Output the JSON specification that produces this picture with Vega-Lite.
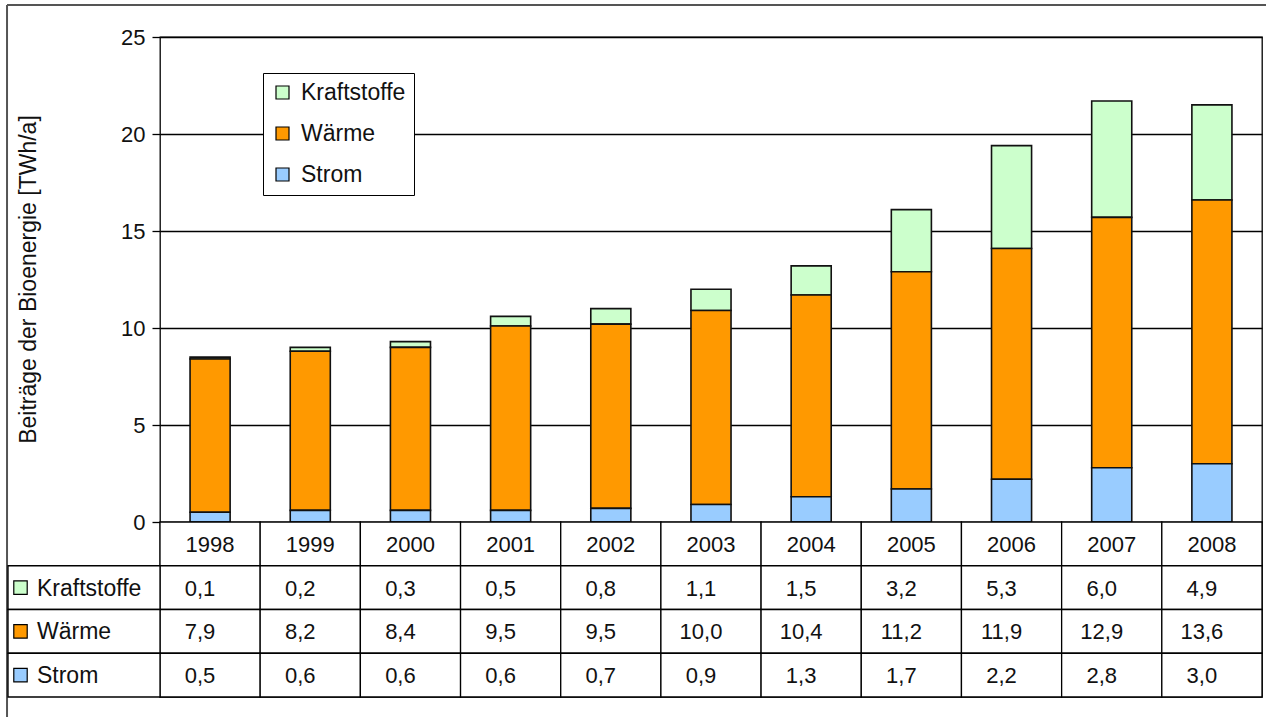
{
  "$schema": "https://vega.github.io/schema/vega-lite/v6.json",
  "width": 1102,
  "height": 660,
  "autosize": "none",
  "padding": {"left": 160, "top": 37, "right": 4, "bottom": 20},
  "background": "white",
  "config": {
    "font": "Liberation Sans",
    "locale": {"number": {"decimal": ",", "thousands": ".", "grouping": [3], "currency": ["", " €"]}},
    "view": {"stroke": "#000", "strokeWidth": 1.3}
  },
  "data": {
    "values": [
      {"year": "1998", "series": "Kraftstoffe", "value": 0.1},
      {"year": "1998", "series": "Wärme", "value": 7.9},
      {"year": "1998", "series": "Strom", "value": 0.5},
      {"year": "1999", "series": "Kraftstoffe", "value": 0.2},
      {"year": "1999", "series": "Wärme", "value": 8.2},
      {"year": "1999", "series": "Strom", "value": 0.6},
      {"year": "2000", "series": "Kraftstoffe", "value": 0.3},
      {"year": "2000", "series": "Wärme", "value": 8.4},
      {"year": "2000", "series": "Strom", "value": 0.6},
      {"year": "2001", "series": "Kraftstoffe", "value": 0.5},
      {"year": "2001", "series": "Wärme", "value": 9.5},
      {"year": "2001", "series": "Strom", "value": 0.6},
      {"year": "2002", "series": "Kraftstoffe", "value": 0.8},
      {"year": "2002", "series": "Wärme", "value": 9.5},
      {"year": "2002", "series": "Strom", "value": 0.7},
      {"year": "2003", "series": "Kraftstoffe", "value": 1.1},
      {"year": "2003", "series": "Wärme", "value": 10.0},
      {"year": "2003", "series": "Strom", "value": 0.9},
      {"year": "2004", "series": "Kraftstoffe", "value": 1.5},
      {"year": "2004", "series": "Wärme", "value": 10.4},
      {"year": "2004", "series": "Strom", "value": 1.3},
      {"year": "2005", "series": "Kraftstoffe", "value": 3.2},
      {"year": "2005", "series": "Wärme", "value": 11.2},
      {"year": "2005", "series": "Strom", "value": 1.7},
      {"year": "2006", "series": "Kraftstoffe", "value": 5.3},
      {"year": "2006", "series": "Wärme", "value": 11.9},
      {"year": "2006", "series": "Strom", "value": 2.2},
      {"year": "2007", "series": "Kraftstoffe", "value": 6.0},
      {"year": "2007", "series": "Wärme", "value": 12.9},
      {"year": "2007", "series": "Strom", "value": 2.8},
      {"year": "2008", "series": "Kraftstoffe", "value": 4.9},
      {"year": "2008", "series": "Wärme", "value": 13.6},
      {"year": "2008", "series": "Strom", "value": 3.0}
    ]
  },
  "resolve": {"scale": {"y": "independent"}},
  "layer": [
    {
      "layer": [
        {
          "transform": [{"joinaggregate": [{"op": "variance", "field": "value", "as": "spread"}], "groupby": ["series"]}],
          "mark": {"type": "bar", "width": {"band": 0.4}, "stroke": "#111", "strokeWidth": 1.6},
          "encoding": {
            "x": {"field": "year", "type": "nominal", "scale": {"paddingInner": 0, "paddingOuter": 0}, "axis": null},
            "y": {
              "field": "value", "type": "quantitative", "stack": "zero",
              "scale": {"domain": [-9.0206, 25], "nice": false, "zero": false},
              "axis": {
                "values": [0, 5, 10, 15, 20, 25],
                "title": "Beiträge der Bioenergie [TWh/a]",
                "titleFontSize": 23, "titleFontWeight": "normal", "titleColor": "#111",
                "titleX": -132, "titleY": 242, "titleAngle": 270, "titleAlign": "center", "titleBaseline": "middle",
                "labelFontSize": 22, "labelColor": "#111", "labelPadding": 7,
                "tickSize": 8, "tickColor": "#000", "tickWidth": 1.3,
                "domain": false,
                "grid": true, "gridColor": "#000", "gridWidth": 1.3, "gridOpacity": 1
              }
            },
            "order": {"field": "spread", "type": "quantitative", "sort": "ascending"},
            "color": {
              "field": "series", "type": "nominal",
              "scale": {"domain": ["Kraftstoffe", "Wärme", "Strom"], "range": ["#CCFFCC", "#FF9900", "#99CCFF"]},
              "legend": {
                "title": null, "orient": "none", "legendX": 103, "legendY": 36,
                "fillColor": "white", "strokeColor": "#000", "padding": 8,
                "labelFontSize": 23, "labelColor": "#111", "labelOffset": 7,
                "symbolType": "square", "symbolSize": 169, "symbolStrokeColor": "#000", "symbolStrokeWidth": 1.2,
                "symbolOpacity": 1, "rowPadding": 17
              }
            }
          }
        },
        {
          "data": {"values": [{}]},
          "mark": {"type": "rule", "stroke": "#555", "strokeWidth": 2},
          "encoding": {
            "x": {"datum": "1998", "type": "nominal", "bandPosition": -1.527},
            "x2": {"datum": "2008", "bandPosition": 1.05},
            "y": {"datum": 26.649, "type": "quantitative"}
          }
        },
        {
          "data": {"values": [{}]},
          "mark": {"type": "rule", "stroke": "#555", "strokeWidth": 2},
          "encoding": {
            "x": {"datum": "1998", "type": "nominal", "bandPosition": -1.527},
            "y": {"datum": 26.649, "type": "quantitative"},
            "y2": {"datum": -10.1}
          }
        }
      ]
    },
    {
      "layer": [
        {
          "transform": [{"aggregate": [{"op": "count", "as": "n"}], "groupby": ["year"]}],
          "mark": {"type": "rect", "fill": "white", "stroke": "#000", "strokeWidth": 1.3},
          "encoding": {
            "x": {"field": "year", "type": "nominal"},
            "y": {"datum": "Jahr", "type": "nominal", "axis": null,
                  "scale": {"domain": ["Jahr", "Kraftstoffe", "Wärme", "Strom"], "range": [485, 660], "paddingInner": 0, "paddingOuter": 0}}
          }
        },
        {
          "mark": {"type": "rect", "fill": "white", "stroke": "#000", "strokeWidth": 1.3},
          "encoding": {
            "x": {"field": "year", "type": "nominal"},
            "y": {"field": "series", "type": "nominal", "axis": null}
          }
        },
        {
          "transform": [{"aggregate": [{"op": "count", "as": "n"}], "groupby": ["series"]}],
          "mark": {"type": "rect", "fill": "white", "stroke": "#000", "strokeWidth": 1.3},
          "encoding": {
            "x": {"datum": "1998", "type": "nominal", "bandPosition": -1.517},
            "x2": {"datum": "1998", "bandPosition": 0},
            "y": {"field": "series", "type": "nominal", "axis": null}
          }
        },
        {
          "transform": [{"aggregate": [{"op": "count", "as": "n"}], "groupby": ["year"]}],
          "mark": {"type": "text", "fontSize": 22, "color": "#111", "baseline": "middle", "align": "center", "dy": 1},
          "encoding": {
            "x": {"field": "year", "type": "nominal"},
            "y": {"datum": "Jahr", "type": "nominal"},
            "text": {"field": "year"}
          }
        },
        {
          "mark": {"type": "text", "fontSize": 22, "color": "#111", "baseline": "middle", "align": "center", "dy": 1},
          "encoding": {
            "x": {"field": "year", "type": "nominal", "bandPosition": 0.4},
            "y": {"field": "series", "type": "nominal"},
            "text": {"field": "value", "type": "quantitative", "format": ".1f"}
          }
        },
        {
          "transform": [{"aggregate": [{"op": "count", "as": "n"}], "groupby": ["series"]}],
          "mark": {"type": "point", "shape": "square", "filled": true, "size": 180, "stroke": "#000", "strokeWidth": 1.2, "opacity": 1},
          "encoding": {
            "x": {"datum": "1998", "type": "nominal", "bandPosition": -1.3925},
            "y": {"field": "series", "type": "nominal"},
            "fill": {"field": "series", "type": "nominal", "legend": null,
                     "scale": {"domain": ["Kraftstoffe", "Wärme", "Strom"], "range": ["#CCFFCC", "#FF9900", "#99CCFF"]}}
          }
        },
        {
          "transform": [{"aggregate": [{"op": "count", "as": "n"}], "groupby": ["series"]}],
          "mark": {"type": "text", "fontSize": 23, "color": "#111", "baseline": "middle", "align": "left", "dy": 1},
          "encoding": {
            "x": {"datum": "1998", "type": "nominal", "bandPosition": -1.228},
            "y": {"field": "series", "type": "nominal"},
            "text": {"field": "series"}
          }
        }
      ]
    }
  ]
}
